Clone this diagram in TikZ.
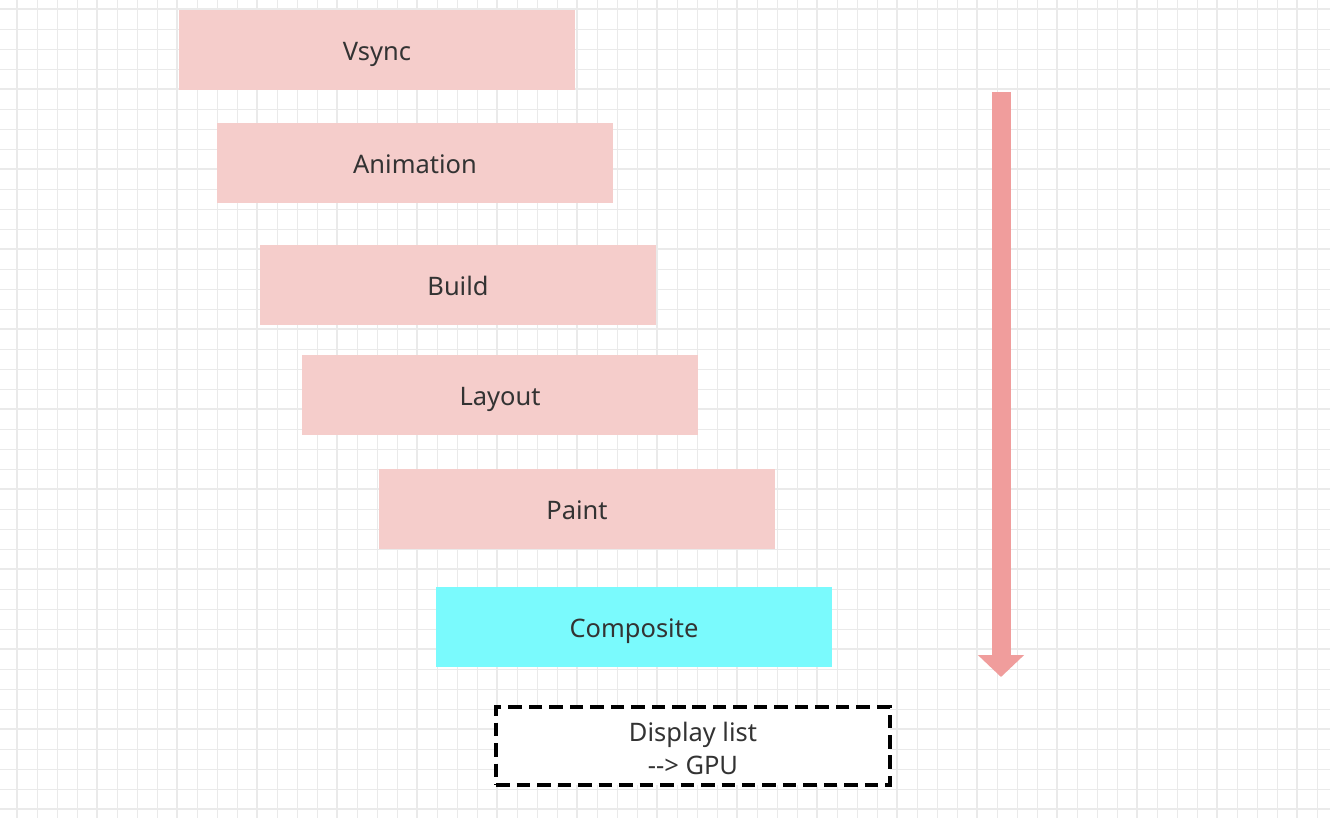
\documentclass[tikz,border=0pt]{standalone}
\usepackage{fontspec}
\setmainfont{Noto Sans}
\usetikzlibrary{arrows.meta}

\definecolor{stagepink}{HTML}{F5CDCB}
\definecolor{stagecyan}{HTML}{7AFAFD}
\definecolor{flowred}{HTML}{F09D9C}
\definecolor{gridgray}{HTML}{EAEAEA}
\definecolor{labelgray}{HTML}{333333}

\tikzset{
  stage/.style={fill=stagepink, minimum width=7.94cm, minimum height=1.6cm,
    inner sep=0pt, text height=12pt, text depth=0pt,
    text=labelgray, font=\fontsize{14.5}{18}\selectfont},
  output/.style={draw=black, line width=2.2pt, dash pattern=on 0.27cm off 0.14cm,
    fill=white, minimum width=7.88cm, minimum height=1.56cm, inner sep=0pt,
    align=center, text height=33pt, text depth=0pt,
    text=labelgray, font=\fontsize{14.5}{19}\selectfont}
}

\begin{document}
\begin{tikzpicture}[x=0.02cm,y=-0.02cm]

    \useasboundingbox (0,0) rectangle (1330,818);
    \fill[white] (0,0) rectangle (1330,818);

    % Grid paper
    \foreach \x in {17,37,...,1317} {
      \draw[gridgray, line width=0.5pt] (\x,0) -- (\x,818);
    }
    \foreach \y in {9,29,...,809} {
      \draw[gridgray, line width=0.5pt] (0,\y) -- (1330,\y);
    }
    \foreach \x in {17,97,...,1297} {
      \draw[gridgray, line width=1pt] (\x,0) -- (\x,818);
    }
    \foreach \y in {9,89,...,809} {
      \draw[gridgray, line width=1pt] (0,\y) -- (1330,\y);
    }

    % Pipeline stages
    \node[stage] (vsync) at (377,50) {Vsync};
    \node[stage] (animation) at (415,163) {Animation};
    \node[stage] (build) at (458,285) {Build};
    \node[stage] (layout) at (500,395) {Layout};
    \node[stage] (paint) at (577,509) {Paint};
    \node[stage, fill=stagecyan] (composite) at (634,627) {Composite};

    % Result handed to the GPU
    \node[output] (displaylist) at (693,746) {Display list\\-{}-> GPU};

    % Flow direction
    \coordinate (flowtop) at (1001,92);
    \coordinate (flowend) at (1001,677);
    \draw[flowred, line width=0.38cm, -{Triangle[length=0.44cm, width=0.9cm]}] (flowtop) -- (flowend);

\end{tikzpicture}
\end{document}
